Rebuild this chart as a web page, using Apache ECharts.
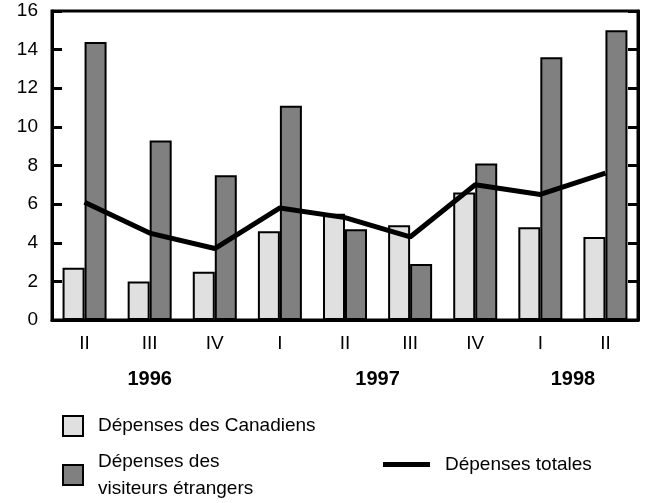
<!DOCTYPE html>
<html>
<head>
<meta charset="utf-8">
<script src="https://cdn.jsdelivr.net/npm/echarts@6/dist/echarts.min.js"></script>
<style>
  html, body { margin: 0; padding: 0; background: #fff; }
  #chart { width: 645px; height: 503px; }
</style>
</head>
<body>
<div id="chart"></div>
<script>
// trimestres
var quarters = ['II', 'III', 'IV', 'I', 'II', 'III', 'IV', 'I', 'II'];
var years = ['1996', '1997', '1998'];
// dépenses (milliards $)
var canadiens = [2.7, 2.0, 2.5, 4.6, 5.5, 4.9, 6.6, 4.8, 4.3];
var etrangers = [14.4, 9.3, 7.5, 11.1, 4.7, 2.9, 8.1, 13.6, 15.0];
var totales = [6.1, 4.5, 3.7, 5.8, 5.3, 4.3, 7.0, 6.5, 7.6];
var yTicks = [0, 2, 4, 6, 8, 10, 12, 14, 16];

// year label slots on a half-quarter scale (0..18)
var yearSlots = [3, 10, 16];

var font = 'Liberation Sans, Arial, sans-serif';
var chart = echarts.init(document.getElementById('chart'));

var legendText = { fontFamily: font, fontSize: 19, color: '#000', padding: [0, 0, 0, 10] };

var option = {
  backgroundColor: '#fff',
  animation: false,
  grid: {
    left: 52,
    right: 7,
    top: 11,
    bottom: 183,
    show: true,
    borderColor: '#000',
    borderWidth: 3
  },
  legend: [{
    data: ['Dépenses des Canadiens'],
    left: 62,
    top: 415,
    padding: 0,
    icon: 'rect',
    itemWidth: 20,
    itemHeight: 20,
    textStyle: legendText
  }, {
    data: ['Dépenses des visiteurs étrangers'],
    left: 62,
    top: 448,
    padding: 0,
    icon: 'rect',
    itemWidth: 20,
    itemHeight: 20,
    formatter: function () {
      return 'Dépenses des\nvisiteurs étrangers';
    },
    textStyle: Object.assign({}, legendText, { lineHeight: 27 })
  }, {
    data: ['Dépenses totales'],
    left: 383,
    top: 455,
    padding: 0,
    icon: 'rect',
    itemWidth: 47,
    itemHeight: 5,
    textStyle: legendText
  }],
  xAxis: [{
    type: 'category',
    data: quarters,
    position: 'bottom',
    axisLine: { lineStyle: { color: '#000', width: 3 } },
    axisTick: { show: false },
    axisLabel: { color: '#000', fontFamily: font, fontSize: 19, margin: 14 }
  }, {
    type: 'value',
    min: 0,
    max: 18,
    interval: 1,
    position: 'bottom',
    offset: 35,
    axisLine: { show: false },
    axisTick: { show: false },
    splitLine: { show: false },
    axisLabel: {
      color: '#000',
      fontFamily: font,
      fontSize: 20,
      fontWeight: 'bold',
      margin: 14,
      formatter: function (v) {
        var i = yearSlots.indexOf(v);
        return i >= 0 ? years[i] : '';
      }
    }
  }],
  yAxis: [{
    type: 'value',
    min: yTicks[0],
    max: yTicks[yTicks.length - 1],
    interval: 2,
    position: 'left',
    axisLine: { show: true, lineStyle: { color: '#000', width: 3 } },
    axisTick: { show: true, inside: true, length: 10, lineStyle: { color: '#000', width: 3 } },
    splitLine: { show: false },
    axisLabel: { color: '#000', fontFamily: font, fontSize: 19, margin: 14, padding: [4, 0, 0, 0] }
  }, {
    type: 'value',
    min: yTicks[0],
    max: yTicks[yTicks.length - 1],
    interval: 2,
    position: 'right',
    axisLine: { show: true, lineStyle: { color: '#000', width: 3 } },
    axisTick: { show: true, inside: true, length: 10, lineStyle: { color: '#000', width: 3 } },
    splitLine: { show: false },
    axisLabel: { show: false }
  }],
  series: [{
    name: 'Dépenses des Canadiens',
    type: 'bar',
    data: canadiens,
    barWidth: 22,
    barGap: '0%',
    itemStyle: { color: '#e0e0e0', borderColor: '#000', borderWidth: 2 }
  }, {
    name: 'Dépenses des visiteurs étrangers',
    type: 'bar',
    data: etrangers,
    barWidth: 22,
    barGap: '0%',
    itemStyle: { color: '#808080', borderColor: '#000', borderWidth: 2 }
  }, {
    name: 'Dépenses totales',
    type: 'line',
    data: totales,
    symbol: 'none',
    z: 5,
    lineStyle: { color: '#000', width: 5 },
    itemStyle: { color: '#000' }
  }]
};

chart.setOption(option);
</script>
</body>
</html>
